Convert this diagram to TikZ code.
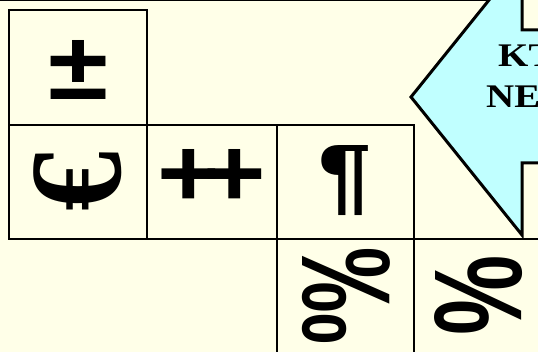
\documentclass[tikz,border=0pt]{standalone}
\usepackage{fontspec}
\usepackage{graphicx}
\setmainfont{Liberation Serif}
\newfontfamily\symf{Liberation Sans}
\newcommand\arrowfnt{\fontsize{33pt}{41pt}\selectfont\bfseries}
\definecolor{cream}{RGB}{255,255,232}
\definecolor{acyan}{RGB}{192,255,255}
\begin{document}
\begin{tikzpicture}[x=1pt,y=-1pt,
  cell/.style={draw,line width=2.4pt,inner sep=0pt,outer sep=0pt,anchor=north west},
  sym/.style={inner sep=0pt,outer sep=0pt,font=\symf\bfseries},
  arrowtxt/.style={inner sep=0pt,anchor=base west,font=\arrowfnt}]
\useasboundingbox (0,0) rectangle (538,352);
\clip (0,0) rectangle (538,352);
\fill[cream] (0,0) rectangle (538,352);
\draw[line width=1.5pt] (0,0.7) -- (495,0.7);
% cells
\node[cell,minimum width=138pt,minimum height=115pt] (c1) at (9,10) {};
\node[cell,minimum width=138pt,minimum height=114pt] (c2) at (9,125) {};
\node[cell,minimum width=130pt,minimum height=114pt] (c3) at (147,125) {};
\node[cell,minimum width=137pt,minimum height=114pt] (c4) at (277,125) {};
\node[cell,minimum width=137pt,minimum height=120pt] (c5) at (277,239) {};
\node[cell,minimum width=140pt,minimum height=120pt] (c6) at (414,239) {};
% symbols
\node[sym] (s1) at (78,69.5) {\resizebox{60pt}{59pt}{±}};
\node[sym,font=\rmfamily\bfseries] (s2) at (77.5,181.5) {\resizebox*{88pt}{60pt}{\rotatebox{90}{€}}};
\node[sym] (s3) at (211.5,178) {\resizebox{108pt}{57pt}{+\kern-0.158em+}};
\node[sym] (s4) at (345.5,181) {\resizebox*{53pt}{70pt}{¶}};
\node[sym] (s5) at (346,296.5) {\resizebox*{88pt}{97pt}{\rotatebox{-90}{‰}}};
\node[sym] (s6) at (479,296) {\resizebox*{88pt}{80pt}{\rotatebox{-90}{\%}}};
% arrow
\draw[fill=acyan,line width=3pt,line join=miter] (411,97) -- (522,-41) -- (522,30) -- (560,30) -- (560,163) -- (522,163) -- (522,235) -- cycle;
\node[arrowtxt] (kt) at (498,67) {\scalebox{1.18}[1]{KT}};
\node[arrowtxt] (ne) at (486,108) {\scalebox{1.18}[1]{NE}};
\end{tikzpicture}
\end{document}
